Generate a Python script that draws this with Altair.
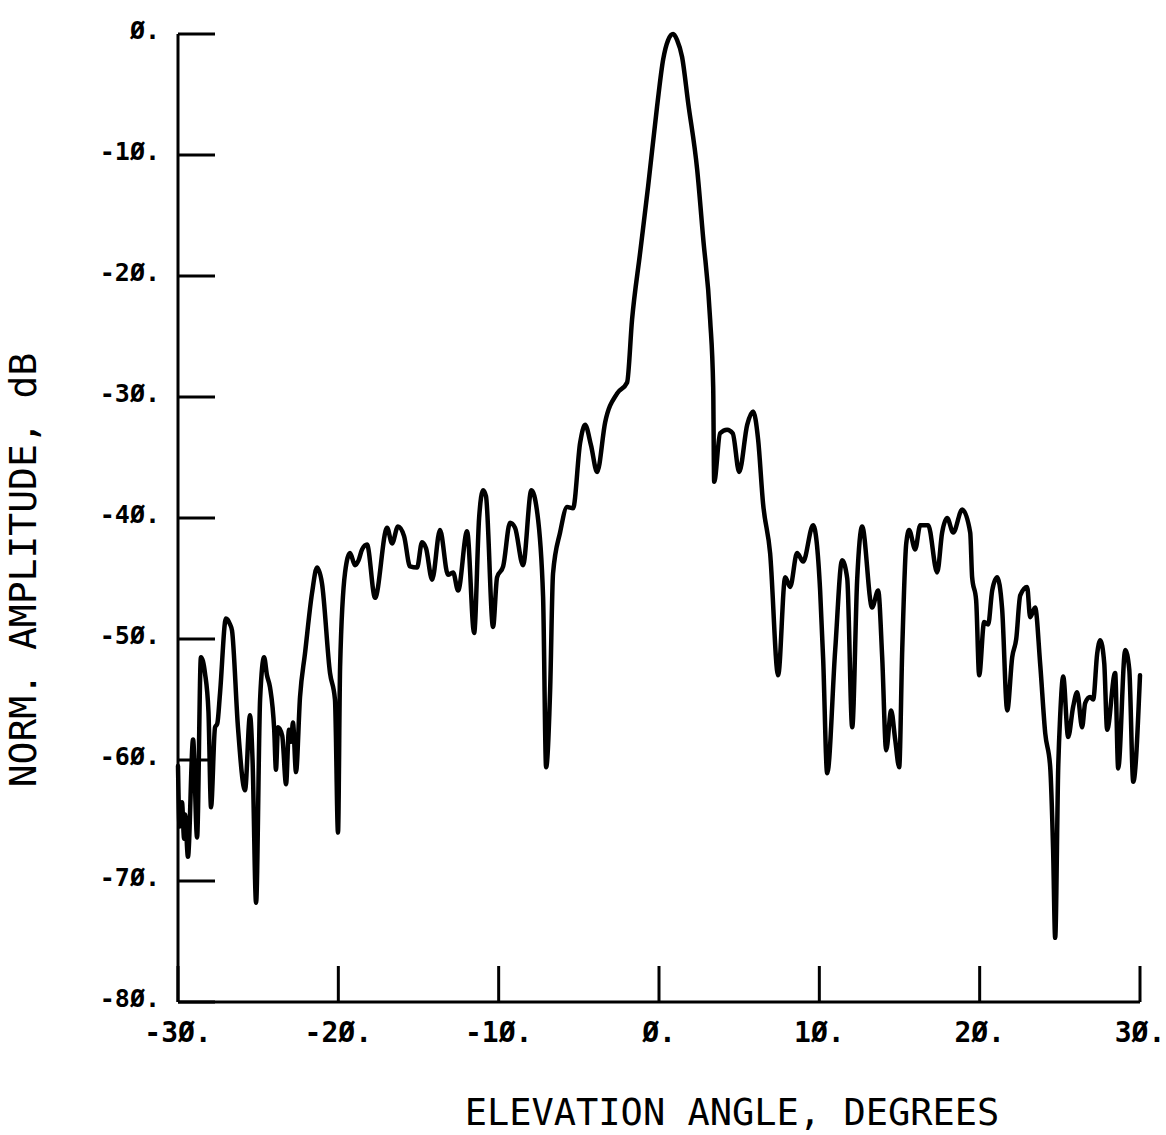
import altair as alt
import pandas as pd

# Elevation-plane antenna pattern: angle (deg) vs normalised amplitude (dB)
angle = [
    -30.0, -29.9, -29.75, -29.62, -29.56, -29.38, -29.06, -28.81, -28.57, -28.32,
    -28.1, -27.94, -27.69, -27.55, -27.38, -27.01, -26.75, -26.63, -26.26, -25.82,
    -25.51, -25.35, -25.13, -24.88, -24.63, -24.45, -24.26, -24.0, -23.89, -23.76,
    -23.5, -23.26, -23.08, -22.95, -22.83, -22.64, -22.39, -22.08, -21.64, -21.33,
    -21.02, -20.52, -20.21, -20.02, -19.89, -19.58, -19.27, -18.96, -18.74, -18.52,
    -18.21, -17.71, -16.96, -16.65, -16.28, -15.90, -15.53, -15.09, -14.78, -14.53,
    -14.15, -13.66, -13.16, -12.84, -12.53, -11.97, -11.53, -11.22, -10.97, -10.79,
    -10.35, -10.10, -9.72, -9.29, -8.98, -8.48, -7.96, -7.60, -7.23, -7.04,
    -6.79, -6.61, -6.17, -5.73, -5.36, -4.92, -4.61, -4.24, -3.86, -3.36,
    -2.61, -1.99, -1.68, -1.18, -0.68, -0.12, 0.26, 0.57, 0.88, 1.13,
    1.44, 1.82, 2.38, 2.75, 3.19, 3.38, 3.44, 3.81, 4.25, 4.60,
    5.00, 5.50, 5.87, 6.18, 6.49, 6.93, 7.43, 7.87, 8.18, 8.61,
    8.99, 9.61, 10.05, 10.24, 10.49, 10.99, 11.42, 11.74, 12.05, 12.36,
    12.67, 13.29, 13.67, 13.92, 14.17, 14.48, 14.73, 14.98, 15.17, 15.42,
    15.60, 15.98, 16.29, 16.79, 17.35, 17.66, 17.97, 18.35, 18.91, 19.41,
    19.53, 19.78, 19.97, 20.28, 20.53, 20.78, 21.09, 21.40, 21.72, 22.03,
    22.28, 22.53, 22.96, 23.15, 23.46, 23.77, 24.09, 24.40, 24.58, 24.71,
    24.90, 25.02, 25.21, 25.52, 25.83, 26.08, 26.39, 26.58, 26.89, 27.08,
    27.33, 27.52, 27.77, 27.95, 28.45, 28.64, 29.08, 29.33, 29.58, 30.0,
]
level = [
    -60.5, -65.5, -63.5, -66.5, -64.5, -68.0, -58.3, -66.4, -51.5, -52.8,
    -56.0, -63.9, -57.3, -57.0, -54.5, -48.3, -48.8, -49.3, -57.3, -62.5,
    -56.3, -60.0, -71.8, -55.0, -51.5, -53.0, -54.0, -57.5, -60.8, -57.3,
    -58.0, -62.0, -57.5, -58.5, -56.9, -61.0, -54.8, -51.2, -46.2, -44.1,
    -45.4, -52.8, -55.0, -66.0, -52.3, -44.5, -42.9, -43.9, -43.5, -42.6,
    -42.2, -46.6, -40.8, -42.1, -40.7, -41.5, -44.0, -44.1, -42.0, -42.5,
    -45.1, -41.0, -44.7, -44.5, -46.0, -41.1, -49.5, -40.0, -37.7, -38.2,
    -49.0, -44.9, -44.0, -40.4, -40.8, -43.9, -37.7, -39.5, -46.5, -60.6,
    -54.2, -44.6, -41.2, -39.1, -39.2, -33.8, -32.3, -34.0, -36.2, -32.1,
    -29.7, -28.8, -23.6, -18.1, -12.6, -6.0, -2.1, -0.5, 0.0, -0.5,
    -1.9, -5.7, -11.2, -16.8, -23.6, -29.2, -37.0, -33.0, -32.7, -33.0,
    -36.2, -32.3, -31.2, -33.5, -38.8, -42.9, -53.0, -44.9, -45.7, -42.9,
    -43.6, -40.6, -46.0, -51.7, -61.1, -50.9, -43.5, -45.0, -57.3, -45.1,
    -40.7, -47.4, -46.0, -51.5, -59.2, -55.9, -58.3, -60.6, -50.9, -42.1,
    -41.0, -42.6, -40.6, -40.6, -44.5, -41.2, -40.0, -41.2, -39.3, -41.2,
    -44.9, -46.8, -53.0, -48.6, -48.8, -46.0, -44.9, -47.5, -55.9, -51.5,
    -50.0, -46.4, -45.7, -48.2, -47.4, -52.0, -57.8, -60.6, -67.4, -74.7,
    -60.6, -56.4, -53.1, -58.1, -55.6, -54.4, -57.3, -55.3, -54.8, -55.0,
    -51.2, -50.1, -52.0, -57.5, -52.8, -60.7, -50.9, -52.5, -61.8, -53.0,
]

y_ticks = [0, -10, -20, -30, -40, -50, -60, -70, -80]
y_tick_labels = ["Ø.", "-1Ø.", "-2Ø.", "-3Ø.", "-4Ø.", "-5Ø.", "-6Ø.", "-7Ø.", "-8Ø."]
x_ticks = [-30, -20, -10, 0, 10, 20, 30]
x_tick_labels = ["-3Ø.", "-2Ø.", "-1Ø.", "Ø.", "1Ø.", "2Ø.", "3Ø."]

x_title = "ELEVATION ANGLE, DEGREES"
y_title = "NORM. AMPLITUDE, dB"

W, H = 962, 968
FONT = "DejaVu Sans Mono"
INK = "#000000"

xs = alt.Scale(domain=[-30, 30], nice=False, zero=False)
ys = alt.Scale(domain=[-80, 0], nice=False, zero=False)

pattern = pd.DataFrame({"angle": angle, "level": level})
yt = pd.DataFrame({"v": y_ticks, "lab": y_tick_labels})
xt = pd.DataFrame({"v": x_ticks, "lab": x_tick_labels})

curve = alt.Chart(pattern).mark_line(
    color=INK, strokeWidth=4.5, strokeJoin="round", strokeCap="round",
    interpolate="monotone"
).encode(
    x=alt.X("angle:Q", scale=xs, axis=None),
    y=alt.Y("level:Q", scale=ys, axis=None),
)

# axis lines along the left and bottom edges
y_axis_line = alt.Chart(pd.DataFrame({"a": [0]})).mark_rule(color=INK, strokeWidth=3).encode(
    x=alt.value(0), y=alt.value(0), y2=alt.value(H)
)
x_axis_line = alt.Chart(pd.DataFrame({"a": [0]})).mark_rule(color=INK, strokeWidth=3).encode(
    x=alt.value(0), x2=alt.value(W), y=alt.value(H)
)

# inward tick marks
y_tick_marks = alt.Chart(yt).mark_rule(color=INK, strokeWidth=3).encode(
    y=alt.Y("v:Q", scale=ys, axis=None), x=alt.value(0), x2=alt.value(37)
)
x_tick_marks = alt.Chart(xt).mark_rule(color=INK, strokeWidth=3).encode(
    x=alt.X("v:Q", scale=xs, axis=None), y=alt.value(H), y2=alt.value(H - 36)
)

y_tick_text = alt.Chart(yt).mark_text(
    align="right", baseline="alphabetic", dx=-18, dy=5,
    font=FONT, fontSize=25, fontWeight="bold", color=INK
).encode(y=alt.Y("v:Q", scale=ys, axis=None), x=alt.value(0), text="lab:N")

x_tick_text = alt.Chart(xt).mark_text(
    align="center", baseline="alphabetic",
    font=FONT, fontSize=28, fontWeight="bold", color=INK
).encode(x=alt.X("v:Q", scale=xs, axis=None), y=alt.value(H + 40), text="lab:N")

x_title_text = alt.Chart(pd.DataFrame({"t": [x_title]})).mark_text(
    align="center", baseline="alphabetic",
    font=FONT, fontSize=37, color=INK
).encode(x=alt.value(554), y=alt.value(H + 123), text="t:N")

y_title_text = alt.Chart(pd.DataFrame({"t": [y_title]})).mark_text(
    align="center", baseline="middle", angle=270,
    font=FONT, fontSize=38, color=INK
).encode(x=alt.value(-153), y=alt.value(536), text="t:N")

chart = alt.layer(
    curve, y_axis_line, x_axis_line, y_tick_marks, x_tick_marks,
    y_tick_text, x_tick_text, x_title_text, y_title_text
).properties(
    width=W, height=H,
    padding={"left": 178, "top": 34, "right": 26, "bottom": 133},
    autosize=alt.AutoSizeParams(type="none"),
    background="white",
).configure_view(stroke=None)

chart.save("out.html", embed_options={"renderer": "svg", "actions": False})
